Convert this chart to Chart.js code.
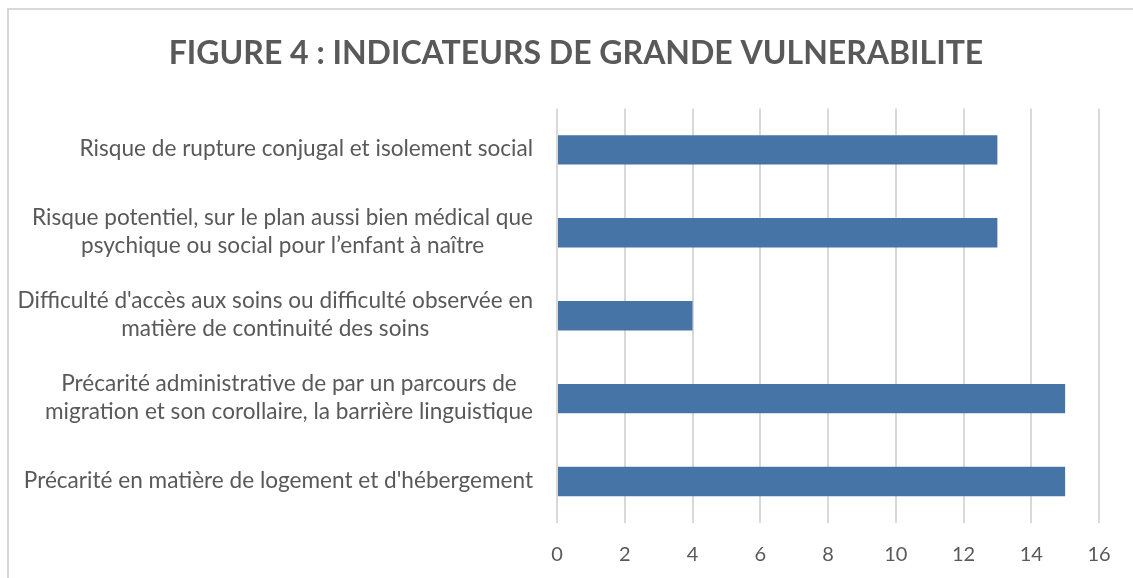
<!DOCTYPE html>
<html>
<head>
<meta charset="utf-8">
<script src="https://cdn.jsdelivr.net/npm/chart.js@4"></script>
<style>
  body { margin: 0; background: #fff; }
  #wrap { position: relative; width: 1133px; height: 578px; overflow: hidden; }
  #cadre { position: absolute; left: 7px; top: 8px; width: 1140px; height: 600px; border: 2px solid #d9d9d9; box-sizing: border-box; }
  canvas { position: absolute; left: 0; top: 0; }
</style>
</head>
<body>
<div id="wrap">
  <div id="cadre"></div>
  <canvas id="fig4" width="1133" height="578"></canvas>
</div>
<script>
// Catégories (de haut en bas)
const categories = [
  ["Risque de rupture conjugal et isolement social"],
  ["Risque potentiel, sur le plan aussi bien médical que", "psychique ou social pour l’enfant à naître"],
  ["Difficulté d'accès aux soins ou difficulté observée en", "matière de continuité des soins"],
  ["Précarité administrative de par un parcours de", "migration et son corollaire, la barrière linguistique"],
  ["Précarité en matière de logement et d'hébergement"]
];
const valeurs = [13, 13, 4, 15, 15];
const titre = "FIGURE 4 : INDICATEURS DE GRANDE VULNERABILITE";

const gris = "#595959";
const police = "Lato, 'Open Sans', sans-serif";

// étiquettes de l'axe des catégories, centrées ligne par ligne comme dans Excel
const etiquettes = {
  id: "etiquettes",
  afterDraw(chart) {
    const ctx = chart.ctx;
    const y = chart.scales.y;
    const droite = chart.chartArea.left - 24;
    ctx.save();
    ctx.font = "22.6px " + police;
    ctx.fillStyle = gris;
    ctx.textAlign = "center";
    ctx.textBaseline = "middle";
    categories.forEach((lignes, i) => {
      const py = y.getPixelForTick(i);
      const maxW = Math.max(...lignes.map(l => ctx.measureText(l).width));
      const cx = droite - maxW / 2;
      const h = 28;
      lignes.forEach((l, k) => {
        ctx.fillText(l, cx, py - 1 - (lignes.length - 1) * h / 2 + k * h);
      });
    });
    ctx.restore();
  }
};

new Chart(document.getElementById("fig4").getContext("2d"), {
  type: "bar",
  data: {
    labels: categories,
    datasets: [{
      data: valeurs,
      backgroundColor: "#4674a6",
      barPercentage: 0.355,
      categoryPercentage: 1
    }]
  },
  options: {
    responsive: false,
    animation: false,
    indexAxis: "y",
    layout: { padding: { left: 53, right: 34, top: 0, bottom: 10 } },
    plugins: {
      legend: { display: false },
      tooltip: { enabled: false },
      title: {
        display: true,
        text: titre,
        color: gris,
        font: { family: police, size: 32, weight: "bold", lineHeight: 1.2 },
        padding: { top: 34, bottom: 36 }
      }
    },
    scales: {
      x: {
        min: 0,
        max: 16,
        ticks: { stepSize: 2, color: gris, padding: 20, font: { family: police, size: 20 } },
        grid: { color: "#d9d9d9", lineWidth: 2, drawTicks: false },
        border: { display: false },
        afterFit(scale) { scale.height = 45; }
      },
      y: {
        ticks: { display: false },
        grid: { display: false },
        border: { display: false },
        afterFit(scale) { scale.width = 557 - 53; }
      }
    }
  },
  plugins: [etiquettes]
});
</script>
</body>
</html>
